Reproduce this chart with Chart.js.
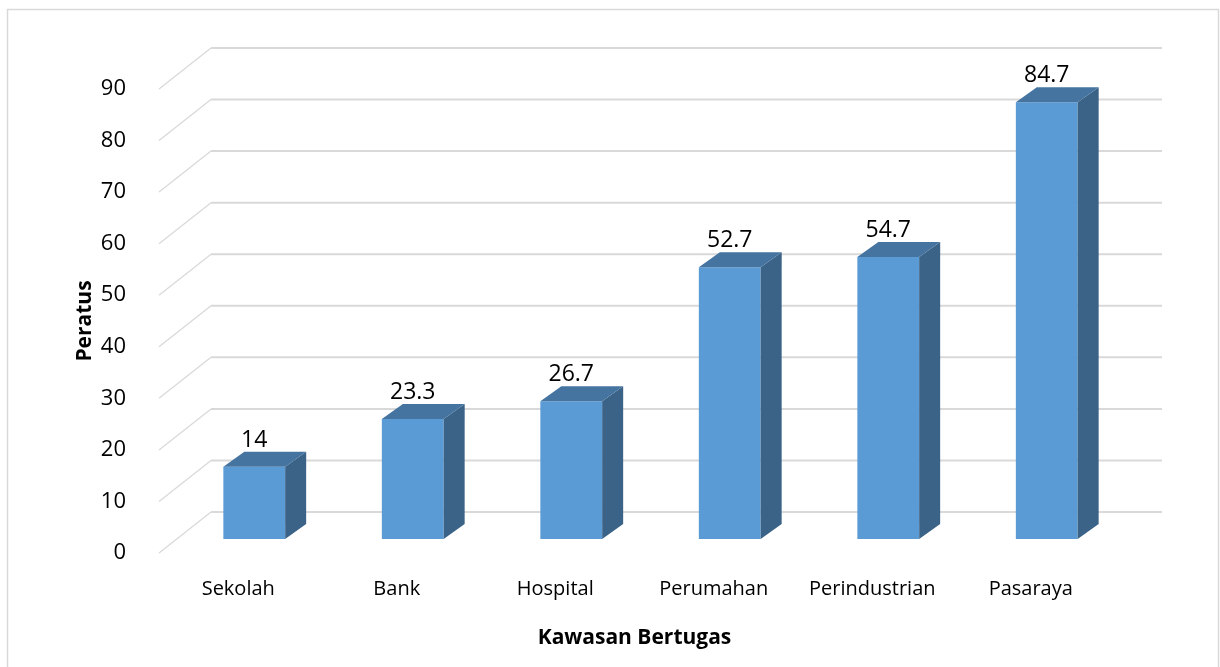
<!doctype html>
<html lang="ms">
<head>
<meta charset="utf-8">
<title>Kawasan Bertugas</title>
<script src="https://cdn.jsdelivr.net/npm/chart.js@4.4.1/dist/chart.umd.min.js"></script>
<style>
  html, body { margin: 0; padding: 0; background: #fff; }
  #wrap { width: 1220px; height: 667px; position: relative; }
</style>
</head>
<body>
<div id="wrap"><canvas id="c"></canvas></div>
<script>
// data
var kawasan = ["Sekolah", "Bank", "Hospital", "Perumahan", "Perindustrian", "Pasaraya"];
var peratus = [14, 23.3, 26.7, 52.7, 54.7, 84.7];
var yMin = 0, yMax = 90, yStep = 10;

// 3d look: bars sit a bit behind the front plane, the wall further back
var barShift = { x: 16, y: -14 };
var barDepth = { x: 21, y: -15 };
var wallDepth = { x: 52, y: -41 };

var fontName = "'Open Sans', 'Liberation Sans', sans-serif";

var frame3d = {
    id: "frame3d",
    beforeDraw: function(chart) {
        var ctx = chart.ctx;
        ctx.save();
        ctx.strokeStyle = "#d9d9d9";
        ctx.lineWidth = 1.5;
        ctx.strokeRect(7.5, 9.5, 1211, 700);
        ctx.restore();
    },
    beforeDatasetsDraw: function(chart) {
        var ctx = chart.ctx;
        var ys = chart.scales.y;
        var a = chart.chartArea;
        ctx.save();
        ctx.strokeStyle = "#d9d9d9";
        for (var v = yMin; v <= yMax; v += yStep) {
            var y = ys.getPixelForValue(v);
            ctx.lineWidth = 1.3;
            ctx.beginPath();
            ctx.moveTo(a.left, y);
            ctx.lineTo(a.left + wallDepth.x, y + wallDepth.y);
            ctx.stroke();
            ctx.lineWidth = 2;
            ctx.beginPath();
            ctx.moveTo(a.left + wallDepth.x, y + wallDepth.y);
            ctx.lineTo(a.right + wallDepth.x, y + wallDepth.y);
            ctx.stroke();
        }
        ctx.restore();
        // bars are drawn shifted back into the box
        ctx.save();
        ctx.translate(barShift.x, barShift.y);
    },
    afterDatasetsDraw: function(chart) {
        var ctx = chart.ctx;
        var meta = chart.getDatasetMeta(0);
        meta.data.forEach(function(bar, i) {
            var p = bar.getProps(["x", "y", "base", "width"], true);
            var l = p.x - p.width / 2, r = p.x + p.width / 2;
            // side
            ctx.fillStyle = "#3b6387";
            ctx.beginPath();
            ctx.moveTo(r, p.y);
            ctx.lineTo(r + barDepth.x, p.y + barDepth.y);
            ctx.lineTo(r + barDepth.x, p.base + barDepth.y);
            ctx.lineTo(r, p.base);
            ctx.closePath();
            ctx.fill();
            // top
            ctx.fillStyle = "#4574a1";
            ctx.beginPath();
            ctx.moveTo(l, p.y);
            ctx.lineTo(r, p.y);
            ctx.lineTo(r + barDepth.x, p.y + barDepth.y);
            ctx.lineTo(l + barDepth.x, p.y + barDepth.y);
            ctx.closePath();
            ctx.fill();
            // value label
            ctx.fillStyle = "#000";
            ctx.font = "23px " + fontName;
            ctx.textAlign = "center";
            ctx.textBaseline = "alphabetic";
            ctx.fillText(String(peratus[i]), p.x, p.y + barDepth.y - 5);
        });
        ctx.restore();
    }
};

new Chart(document.getElementById("c"), {
    type: "bar",
    data: {
        labels: kawasan,
        datasets: [{
            data: peratus,
            backgroundColor: "#5b9bd5",
            borderWidth: 0,
            barPercentage: 0.39,
            categoryPercentage: 1
        }]
    },
    plugins: [frame3d],
    options: {
        responsive: true,
        maintainAspectRatio: false,
        animation: false,
        events: [],
        layout: { padding: { top: 89, right: 110, left: 0, bottom: 0 } },
        plugins: { legend: { display: false }, tooltip: { enabled: false } },
        scales: {
            x: {
                grid: { display: false },
                border: { display: false },
                ticks: { color: "#000", padding: 16, font: { family: fontName, size: 20 } },
                title: {
                    display: true,
                    text: "Kawasan Bertugas",
                    color: "#000",
                    font: { family: fontName, size: 21, weight: "bold" },
                    padding: { top: 0, bottom: 16 }
                },
                afterFit: function(s) { s.height = 114; }
            },
            y: {
                min: yMin,
                max: yMax,
                grid: { display: false },
                border: { display: false },
                ticks: { stepSize: yStep, color: "#000", padding: 25, font: { family: fontName, size: 22 } },
                title: {
                    display: true,
                    text: "Peratus",
                    color: "#000",
                    font: { family: fontName, size: 21, weight: "bold" },
                    padding: { top: 72, bottom: 0 }
                },
                afterFit: function(s) { s.width = 159; }
            }
        }
    }
});
</script>
</body>
</html>
